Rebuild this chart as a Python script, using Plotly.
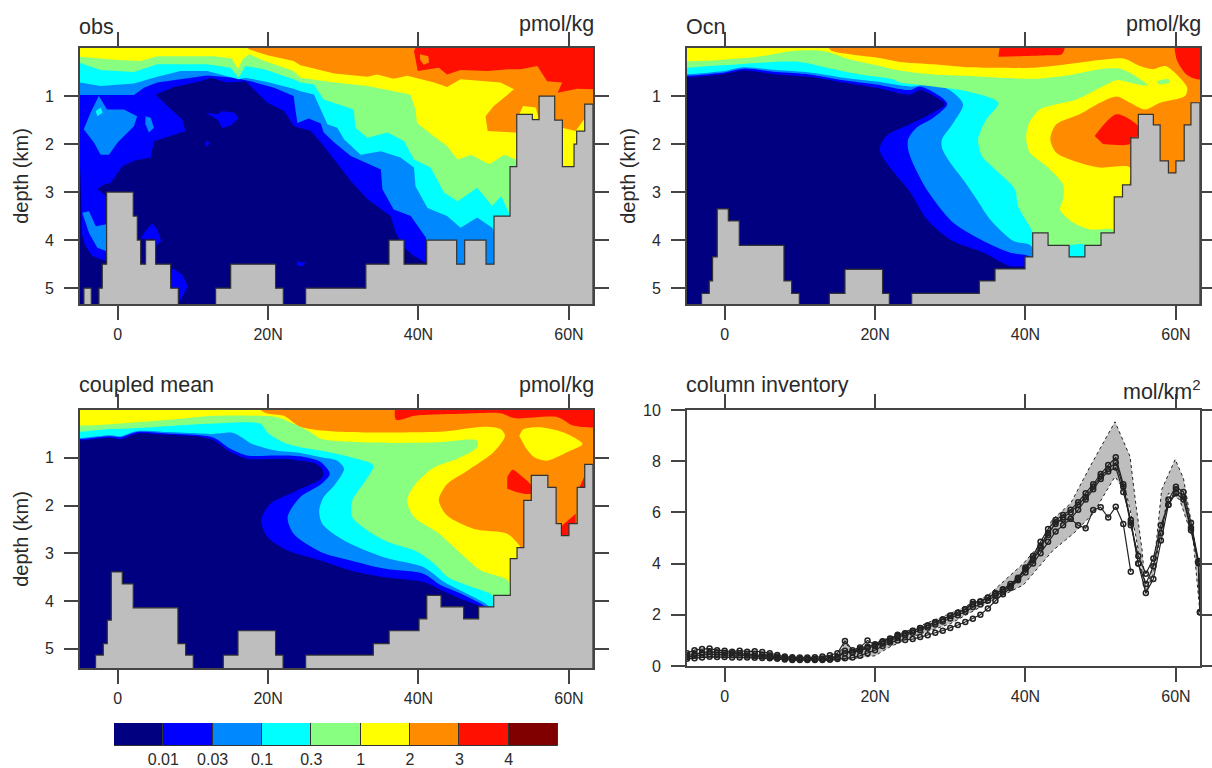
import plotly.graph_objects as go

# ---------- colour classes and legend labels ----------
COLORS = ["#000080", "#0000ff", "#0088ff", "#00ffff", "#88ff80",
          "#ffff00", "#ff8c00", "#ff1000", "#800000"]
LEVEL_LABELS = ["0.01", "0.03", "0.1", "0.3", "1", "2", "3", "4"]
GRAY = "#bebebe"
LAT_TICKS = [0, 20, 40, 60]
LAT_LABELS = ["0", "20N", "40N", "60N"]
DEPTH_TICKS = [1, 2, 3, 4, 5]
INV_TICKS = [0, 2, 4, 6, 8, 10]
LAT_MIN, LAT_MAX = -5, 63.2
DEEP = 5.6

# ---------- isolines digitised as (lat, depth km): region at or above each level ----------
OBS_001 = [(-5,0),(-5,2.4),(-4.7,3.92),(-4.25,4.13),(-3.37,4.33),(-1.46,4.44),(-0.5,3.85),(-1.46,3.08),(-2.7,2.94),(-1.8,2.84),
           (-0.93,2.81),(0.62,2.46),(2.17,2.35),(4.39,2.28),(4.83,1.94),(7.05,1.83),(9.04,1.73),(8.6,1.49),(6.6,1.21),(5.05,0.97),
           (7.49,0.81),(11.04,0.69),(12.37,0.62),(14.58,0.72),(17.02,0.69),(18.57,0.93),(19.9,1.14),(22.12,1.31),(23.45,1.63),
           (25.7,1.73),(27.4,2.04),(28.8,2.32),(31,2.77),(33.2,3.15),(36.3,3.5),(37,3.85),(38.1,4.16),(39.4,4.33),(41,4.47),
           (41,4.6),(63.2,5.6),(63.2,0)]
OBS_001_BLOBS = [
    [(11.7,1.35),(13.3,1.38),(13.9,1.31),(15.5,1.35),(16.1,1.46),(15,1.62),(13.9,1.66),(13.3,1.49)],
    [(3.06,3.97),(3.5,3.85),(4.6,3.65),(5.27,3.78),(5.8,4.02),(5.05,4.12),(5.05,3.97)],
    [(7.27,4.58),(8.6,4.72),(9.35,4.96),(8.6,5.17),(8.07,5.33),(7.05,4.96)],
    [(23.8,4.44),(25,4.47),(24.56,4.54),(23.9,4.54)],
    [(11.6,1.97),(12,1.93),(12.2,2.0),(11.7,2.06)],
]
OBS_003 = [(-5,0),(-5,0.98),(2.17,0.98),(3.5,0.83),(5.27,0.72),(8.38,0.65),(11.9,0.57),(15.5,0.62),(18.1,0.71),(20.8,0.83),
           (23.4,1.0),(23.7,1.35),(23.9,1.56),(25.4,1.47),(27,1.57),(27.4,1.76),(28.8,1.97),(31,2.25),(35,2.53),(35.2,2.94),
           (36.7,3.36),(38.97,3.5),(41,3.95),(41.2,4.5),(63.2,5.6),(63.2,0)]
OBS_003_BLOBS = [
    [(-4.5,1.69),(-3.6,1.35),(-2.5,1.0),(-1.4,1.28),(0.84,1.28),(2.6,1.42),(2.17,1.63),(0,1.97),(-1.15,2.22),(-2.26,2.22),(-3.15,1.97)],
    [(3.7,1.42),(4.4,1.45),(4.83,1.66),(4.17,1.76),(3.7,1.59)],
    [(-4.7,3.43),(-3.8,3.4),(-2.9,3.71),(-1.46,3.67),(-1.46,4.23),(-2.7,4.16),(-3.8,3.85)],
]
OBS_01 = [(-5,0),(-5,0.72),(-2.26,0.79),(2.17,0.74),(5.27,0.6),(8.38,0.48),(11.9,0.48),(15,0.6),(16.1,0.65),(17,0.62),(19.9,0.71),
          (23.4,0.85),(24.3,0.9),(26.1,0.97),(27,1.28),(27.9,1.59),(29.2,1.66),(30.1,1.9),(32.3,2.22),(35,2.15),(37.6,2.28),
          (39.4,2.49),(39.6,2.88),(41.2,3.33),(43.8,3.5),(45.6,3.74),(47.8,3.53),(49.8,3.74),(50.5,4.0),(63.2,5.6),(63.2,0)]
OBS_01_DOT = [(-2.9,1.31),(-2.26,1.24),(-2,1.35),(-2.7,1.42)]
OBS_03 = [(-5,0),(-5,0.31),(-2.26,0.46),(2.17,0.5),(5.27,0.34),(8.38,0.34),(11.9,0.34),(15,0.41),(16.1,0.62),(17,0.375),(19.5,0.44),
          (23.4,0.65),(24.3,0.72),(26.1,0.76),(27.4,1.07),(31.4,1.28),(31.6,1.66),(33.2,1.87),(35.9,1.76),(38.1,1.94),(39.4,2.32),
          (41.6,2.49),(43.4,3.01),(45.2,3.19),(47.8,2.91),(49.8,3.29),(51,3.08),(52,3.43),(52.7,3.85),(63.2,5.6),(63.2,0)]
OBS_1 = [(-5,0),(-5,0.18),(0,0.25),(3.06,0.27),(5.27,0.17),(12.8,0.17),(15.2,0.22),(16,0.44),(16.6,0.24),(17.5,0.13),(19.5,0.27),
         (23.4,0.48),(24.3,0.62),(28.8,0.72),(33.2,0.79),(38.9,0.97),(39.6,1.28),(39.8,1.56),(42,1.83),(43.8,2.04),(45.2,2.32),
         (47,2.22),(49.4,2.42),(51.4,2.22),(52.9,2.32),(53.2,2.46),(63.2,5.6),(63.2,0)]
OBS_2 = [(17.3,0),(17.5,0.03),(19.9,0.15),(23.4,0.27),(24.3,0.36),(28.8,0.53),(33.2,0.6),(34.5,0.55),(36.7,0.64),(38.5,0.58),
         (42.1,0.72),(43.8,0.81),(45.6,0.65),(50.9,0.72),(52.7,0.86),(50,1.21),(48.9,1.42),(49.2,1.73),(52.7,1.76),(53.4,1.76),
         (53.4,1.38),(53.9,1.21),(55.6,1.24),(56,1.49),(58,1.49),(59.1,1.66),(60.9,1.73),(62,1.49),(62.5,1.56),(63.2,1.6),(63.2,0)]
OBS_3 = [(39.6,0),(39.4,0.06),(39.9,0.48),(42.7,0.41),(43.8,0.55),(45.6,0.46),(49.2,0.48),(51.9,0.44),(53.6,0.44),(55.8,0.375),
         (57.1,0.69),(59.1,0.72),(58.5,0.93),(61.1,0.85),(63.2,0.86),(63.2,0)]
OBS_2_SPOT = [(40.2,0.13),(41.3,0.17),(41.4,0.3),(40.7,0.35),(40.2,0.24)]

OBS_BATHY_LAT = [-5,-4.48,-3.5,-2.48,-2.04,-1.46,2.08,2.62,3.06,3.72,5.05,7.05,8.07,13.03,15.03,21,22.03,25,33,36.08,38.08,41.09,
                 45.08,46.14,48.98,50.04,52.17,53.06,55.14,56.03,58.11,59.13,60.68,61.03,62.1]
OBS_BATHY_DEP = [5.6,5.0,5.6,5.0,4.5,3.0,3.5,4.0,4.5,4.0,4.5,5.0,5.6,5.0,4.5,5.0,5.6,5.0,4.5,4.0,4.5,4.0,
                 4.5,4.0,4.5,3.5,2.47,1.38,1.49,1.0,1.5,2.47,2.0,1.73,1.17]

OCN_001 = [(-5,0),(-5,0.53),(-0.6,0.55),(2.5,0.47),(6.9,0.55),(11.3,0.6),(15.8,0.72),(20.2,0.83),(24.6,0.97),(25.97,0.875),(28.6,1.07),
           (29.3,1.17),(27.3,1.38),(24.6,1.59),(21.5,1.83),(20.6,2.11),(21.5,2.39),(24.65,3.0),(26.9,3.57),(30,3.99),(34.4,4.26),
           (37.9,4.54),(39.9,4.56),(40,4.6),(63.2,5.6),(63.2,0)]
OCN_003 = [(-5,0),(-5,0.5),(-0.6,0.52),(2.5,0.43),(6.9,0.5),(11.3,0.55),(15.8,0.67),(20.2,0.76),(24.6,0.875),(26,0.8),(28.6,1.0),
           (29.6,1.17),(27.75,1.45),(25.5,1.66),(24.4,1.9),(24.4,2.11),(25,2.39),(26.6,2.88),(27.75,3.15),(30.4,3.64),(34.4,4.02),
           (37.9,4.26),(40.6,4.35),(41,4.6),(63.2,5.6),(63.2,0)]
OCN_01 = [(-5,0),(-5,0.47),(-0.6,0.49),(2.5,0.4),(6.9,0.46),(11.3,0.51),(15.8,0.62),(20.2,0.7),(24.6,0.8),(27.3,0.76),(29.9,0.875),
          (31.7,1.17),(30.4,1.56),(28.9,1.9),(28.9,2.08),(30,2.39),(31.7,2.74),(33.5,3.15),(35.3,3.57),(38.4,4.02),(40.8,4.13),
          (41,5.6),(63.2,5.6),(63.2,0)]
OCN_03 = [(-5,0),(-5,0.34),(-0.6,0.36),(4.25,0.31),(10,0.29),(13.6,0.41),(18,0.55),(22.4,0.65),(23.3,0.72),(27.7,0.8),(32.2,0.9),
          (36.4,1.14),(34.8,1.49),(33.7,1.9),(34.2,2.25),(36.2,2.56),(38.6,2.94),(39,3.29),(40.8,3.78),(42,4.2),(45.8,4.11),(47.9,4.11),
          (48,5.6),(63.2,5.6),(63.2,0)]
OCN_1 = [(-5,0),(-5,0.18),(3.4,0.2),(9.1,0.06),(13.1,0.06),(16.7,0.24),(20.2,0.36),(23.3,0.47),(27.7,0.55),(32.2,0.58),(36.6,0.62),
         (41,0.64),(45.5,0.57),(49.9,0.44),(52.6,0.43),(54.3,0.55),(56.3,0.78),(54.3,0.74),(52.1,0.67),(49.9,0.83),(46.8,1.07),
         (44.1,1.17),(41.9,1.28),(40.4,1.59),(40.1,1.9),(40.6,2.18),(42.8,2.46),(45,2.84),(45,3.15),(44.6,3.36),(46.4,3.64),
         (48.6,3.78),(51.7,3.79),(52.2,4.2),(63.2,5.6),(63.2,0)]
OCN_03_ISLAND = [(57.4,0.69),(59,0.65),(59.2,0.72),(57.8,0.76)]
OCN_2 = [(13.6,0),(14,0.03),(16.7,0.13),(20.2,0.2),(23.3,0.29),(27.7,0.34),(32.2,0.4),(36.6,0.41),(41,0.41),(45.5,0.34),(49.9,0.25),
         (53,0.22),(55.2,0.375),(56.9,0.44),(58.6,0.375),(60.1,0.55),(61.5,0.83),(61.2,1.0),(57.9,1.14),(55.9,1.28),(53.9,1.14),
         (52.1,1.01),(49.9,1.14),(47.2,1.38),(44.1,1.59),(43.3,1.9),(44.1,2.18),(47.2,2.39),(49.9,2.49),(53.9,2.49),(54,3),(63.2,3),(63.2,0)]
OCN_3_TOP = [(37,0),(45.1,0),(44.9,0.12),(42.8,0.15),(38.9,0.17),(36.4,0.18)]
OCN_3_CORNER = [(59.6,0),(60.1,0.24),(61.4,0.55),(62.8,0.65),(63.2,0.6),(63.2,0)]
OCN_3_CORE = [(49.2,1.83),(52.1,1.38),(55,1.63),(55,1.83),(54.1,1.87),(53.9,2.0),(50.3,2.0)]
OCN_BATHY_LAT = [-5,-3.06,-2.04,-1.6,-0.98,0.49,1.95,7.89,8.91,9.93,13.92,16,21,21.9,24.87,33.87,35.95,39.94,40.96,43,45.8,47.9,50.04,
                 51.8,52.9,54,55,57,57.9,59,60,61.1,62]
OCN_BATHY_DEP = [5.6,5.11,4.85,4.35,3.35,3.6,4.11,4.85,5.11,5.6,5.11,4.61,5.11,5.6,5.11,4.85,4.6,4.35,3.85,4.11,4.35,4.11,3.85,
                 3.1,2.85,1.87,1.38,1.6,2.35,2.6,2.35,1.6,1.14]

CPL_001 = [(-5,0),(-5,0.58),(-0.93,0.58),(0.4,0.61),(2.6,0.49),(6.6,0.52),(11,0.56),(12.8,0.64),(15,0.88),(17.2,1.02),(22.1,1.02),
           (24.3,1.06),(26,1.1),(27,1.2),(27.4,1.34),(27,1.45),(24.3,1.65),(23.4,1.72),(20.3,1.96),(19.1,2.31),(19.9,2.66),(22.6,2.94),
           (27,3.15),(31,3.36),(35.4,3.5),(40.7,3.6),(43,3.77),(45.6,3.95),(48.3,4.11),(49.5,4.2),(63.2,5.6),(63.2,0)]
CPL_003 = [(-5,0),(-5,0.55),(-0.93,0.55),(0.4,0.57),(2.6,0.46),(6.6,0.49),(11,0.53),(12.8,0.58),(15,0.81),(17.2,0.95),(21.2,0.95),
           (24.3,0.97),(27,1.09),(28.2,1.34),(27,1.56),(24.3,1.82),(22.6,2.24),(23.4,2.59),(27,2.97),(31,3.15),(35.4,3.32),(40.7,3.43),
           (43,3.67),(45.6,3.84),(48.7,4.09),(49.6,4.19),(63.2,5.6),(63.2,0)]
CPL_01 = [(-5,0),(-5,0.53),(-0.93,0.53),(0.4,0.55),(2.6,0.44),(6.6,0.46),(11,0.49),(12.8,0.5),(15.4,0.48),(17.9,0.71),(21,0.85),
          (24.3,0.9),(27,0.99),(29.2,1.06),(30.1,1.23),(28.8,1.58),(27.4,1.82),(26.8,2.1),(27.2,2.38),(30.1,2.73),(35.4,3.08),
          (40.7,3.29),(43.4,3.6),(46,3.81),(48.9,4.05),(49.8,4.16),(63.2,5.6),(63.2,0)]
CPL_03 = [(-5,0),(-5,0.4),(-0.93,0.4),(5.7,0.35),(11.9,0.29),(19,0.29),(19.9,0.47),(22.1,0.68),(24.3,0.78),(27,0.85),(31,0.99),(34,1.16),
          (32.8,1.51),(31.2,1.89),(31.2,2.24),(33.2,2.52),(35.9,2.76),(39.9,2.97),(42.1,3.22),(43.9,3.5),(47,3.7),(49.8,3.88),(50.5,4.2),
          (63.2,5.6),(63.2,0)]
CPL_1 = [(-5,0),(-5,0.24),(2.2,0.26),(7.9,0.19),(12.8,0.12),(18.6,0.12),(21.2,0.15),(23.4,0.29),(25.7,0.47),(27,0.6),(33.2,0.68),
         (42,0.68),(47.8,0.64),(47.8,0.78),(45.2,1.02),(42.1,1.2),(39.6,1.55),(38.5,1.89),(39.4,2.24),(42.5,2.56),(45.2,2.94),(48.3,3.36),
         (51.9,3.57),(52.2,3.9),(63.2,5.6),(63.2,0)]
CPL_2 = [(15.9,0),(19.5,0.05),(22.1,0.12),(24.3,0.35),(28.8,0.45),(33.2,0.47),(37.6,0.47),(43.4,0.45),(48.7,0.35),(50.9,0.4),(51.5,0.54),
         (50,0.88),(46.5,1.27),(43.8,1.55),(42.7,1.89),(43.8,2.21),(47.4,2.49),(51.8,2.59),(53.4,2.83),(54,3),(63.2,3),(63.2,0)]
CPL_1_ISLAND = [(53.4,0.54),(54,0.4),(56.2,0.36),(59.3,0.47),(61.8,0.71),(60.2,0.85),(57.1,1.06),(55.4,0.99),(54.2,0.78)]
CPL_3_TOP = [(37.4,0),(37,0.2),(39.5,0.12),(45.7,0.08),(50.9,0.07),(52.7,0.17),(58.5,0.15),(60.7,0.33),(63.2,0.29),(63.2,0)]
CPL_3_CORE = [(51.8,1.41),(52.5,1.25),(53.6,1.37),(55,1.58),(55,1.75),(53.1,1.72),(51.8,1.65)]
CPL_3_LOW = [(59.1,2.42),(60.9,2.17),(60.9,2.38),(60,2.63),(59,2.63)]
CPL_3_EDGE = [(61.4,1.62),(62,1.41),(62.1,1.62)]
CPL_BATHY_LAT = [-5,-2.93,-1.9,-1.37,-0.84,0.62,2.08,8.02,9.04,10.06,14.05,16,21,22,25,34,36.1,40.07,41.1,43,46,48,50,52.2,53.1,54,55,57.2,
                 58.3,59,60,61.1,62.1]
CPL_BATHY_DEP = [5.6,5.13,4.89,4.4,3.39,3.64,4.14,4.89,5.13,5.6,5.13,4.62,5.13,5.6,5.13,4.89,4.62,4.37,3.88,4.12,4.37,4.12,3.88,3.11,2.88,1.89,
                 1.37,1.62,2.38,2.63,2.38,1.62,1.14]

# ---------- column inventory ----------
INV_LAT = list(range(-5, 64)) + [63.2]
INV_OBS = [.5,.62,.66,.68,.62,.6,.56,.6,.56,.58,.55,.5,.43,.37,.34,.33,.33,.34,.37,.42,.5,.98,.62,.72,1.0,.82,.97,1.07,1.22,1.27,
           1.37,1.47,1.58,1.72,1.82,1.97,2.08,2.22,2.5,2.52,2.67,2.82,2.97,3.12,3.42,3.78,4.12,4.62,5.12,5.62,5.72,5.75,5.5,5.38,6.09,6.2,5.8,6.22,5.55,3.68]
INV_OCN = [.28,.3,.33,.36,.35,.35,.33,.33,.33,.32,.31,.3,.28,.25,.23,.23,.23,.23,.23,.24,.27,.3,.33,.4,.5,.62,.78,.92,1.0,1.02,
           1.05,1.13,1.2,1.3,1.38,1.48,1.6,1.72,1.85,2.0,2.25,2.55,2.8,3.05,3.35,3.65,4.0,4.4,4.85,5.25,5.5,5.75,6.1,6.5,6.9,7.3,7.6,7.75,6.8,5.7,4.0,2.85,3.4,4.9,6.3,6.75,6.5,5.3,4.0,2.1]
INV_CPL = [.4,.47,.52,.56,.54,.52,.5,.5,.48,.46,.44,.41,.37,.33,.3,.29,.28,.28,.29,.31,.36,.5,.55,.65,.75,.85,.95,1.05,1.18,1.28,
           1.38,1.48,1.58,1.7,1.82,1.95,2.08,2.22,2.42,2.52,2.68,2.85,3.0,3.2,3.45,3.85,4.3,4.85,5.35,5.7,5.9,6.1,6.4,6.75,7.1,7.5,7.85,8.15,7.1,5.6,4.0,3.2,3.9,5.2,6.5,7.0,6.8,5.6,4.1,2.1]
INV_MEM = [.35,.4,.44,.46,.44,.43,.42,.42,.41,.39,.37,.35,.32,.29,.27,.26,.26,.26,.27,.29,.33,.6,.52,.6,.7,.78,.88,.98,1.12,1.2,
           1.3,1.4,1.5,1.62,1.74,1.86,1.98,2.12,2.3,2.4,2.55,2.75,2.9,3.12,3.4,3.78,4.2,4.7,5.2,5.55,5.8,6.0,6.3,6.6,7.0,7.4,7.7,7.95,7.0,5.5,4.3,3.6,4.2,5.5,6.3,6.9,6.6,5.4,4.05,2.1]
ENV_LAT = [-5,0,5,10,15,16,17,20,25,30,35,39.7,42.4,43.5,46,48.6,51.9,53.9,54.6,55.5,56,57.2,58.1,59.9,61,61.9,63,63.2]
ENV_TOP = [.5,.55,.45,.33,.38,.9,.6,.9,1.45,2.05,2.75,4.0,4.9,5.7,6.35,7.8,9.54,8.18,6.48,4.53,2.84,4.27,6.88,8.07,7.33,5.83,4.0,2.06]
ENV_BOT_LAT = [-5,0,5,10,15,20,22,25,30,35.7,39.7,43.7,46.4,49,51.9,53.4,54.6,56,57,58,59,60.5,62.3,63.2]
ENV_BOT = [.3,.38,.3,.22,.22,.4,.75,1.15,1.65,2.58,3.16,4.53,5.18,5.96,7.4,6.75,5.18,2.84,3.6,5.18,6.75,6.5,4.92,2.06]

# ---------- layout constants ----------
W, H = 1212, 768
TXT = "#2a2a2a"
AX = "#444444"
FONT = "Liberation Sans"


def xd(a, b):
    return [a / W, b / W]


def yd(top, bottom):
    return [1 - bottom / H, 1 - top / H]


fig = go.Figure()


def poly(pts, color, ax, smooth=False):
    xs = [p[0] for p in pts]
    ys = [p[1] for p in pts]
    line = dict(width=0, color=color)
    if smooth:
        # push edge vertices past the clipped plot box so the spline cannot pull away from the frame
        xs = [LAT_MIN - 3 if v <= LAT_MIN else LAT_MAX + 3 if v >= LAT_MAX else v for v in xs]
        ys = [-0.5 if v == 0 else v for v in ys]
        line.update(shape="spline", smoothing=0.8)
    fig.add_trace(go.Scatter(x=xs, y=ys, mode="lines", fill="toself", fillcolor=color, line=line,
                             hoverinfo="skip", showlegend=False, xaxis="x" + ax, yaxis="y" + ax))


def bathy(lat, dep, ax):
    xs = lat + [LAT_MAX, LAT_MAX, LAT_MIN]
    ys = dep + [dep[-1], DEEP, DEEP]
    fig.add_trace(go.Scatter(x=xs, y=ys, mode="lines", fill="toself", fillcolor=GRAY,
                             line=dict(width=1.2, color="#333333", shape="hv"), hoverinfo="skip",
                             showlegend=False, xaxis="x" + ax, yaxis="y" + ax))


BASE = [(LAT_MIN, 0), (LAT_MIN, DEEP), (LAT_MAX, DEEP), (LAT_MAX, 0)]

# panel 1: obs
poly(BASE, COLORS[0], "")
poly(OBS_001, COLORS[1], "")
for b in OBS_001_BLOBS:
    poly(b, COLORS[1], "")
poly(OBS_003, COLORS[2], "")
for b in OBS_003_BLOBS:
    poly(b, COLORS[2], "")
poly(OBS_01, COLORS[3], "")
poly(OBS_01_DOT, COLORS[3], "")
poly(OBS_03, COLORS[4], "")
poly(OBS_1, COLORS[5], "")
poly(OBS_2, COLORS[6], "")
poly(OBS_3, COLORS[7], "")
poly(OBS_2_SPOT, COLORS[6], "")
bathy(OBS_BATHY_LAT, OBS_BATHY_DEP, "")

# panel 2: Ocn
poly(BASE, COLORS[0], "2")
poly(OCN_001, COLORS[1], "2", True)
poly(OCN_003, COLORS[2], "2", True)
poly(OCN_01, COLORS[3], "2", True)
poly(OCN_03, COLORS[4], "2", True)
poly(OCN_1, COLORS[5], "2", True)
poly(OCN_03_ISLAND, COLORS[4], "2", True)
poly(OCN_2, COLORS[6], "2", True)
poly(OCN_3_TOP, COLORS[7], "2", True)
poly(OCN_3_CORNER, COLORS[7], "2", True)
poly(OCN_3_CORE, COLORS[7], "2", True)
bathy(OCN_BATHY_LAT, OCN_BATHY_DEP, "2")

# panel 3: coupled mean
poly(BASE, COLORS[0], "3")
poly(CPL_001, COLORS[1], "3", True)
poly(CPL_003, COLORS[2], "3", True)
poly(CPL_01, COLORS[3], "3", True)
poly(CPL_03, COLORS[4], "3", True)
poly(CPL_1, COLORS[5], "3", True)
poly(CPL_2, COLORS[6], "3", True)
poly(CPL_1_ISLAND, COLORS[5], "3", True)
poly(CPL_3_TOP, COLORS[7], "3", True)
poly(CPL_3_CORE, COLORS[7], "3", True)
poly(CPL_3_LOW, COLORS[7], "3")
poly(CPL_3_EDGE, COLORS[7], "3")
bathy(CPL_BATHY_LAT, CPL_BATHY_DEP, "3")

# panel 4: column inventory
fig.add_trace(go.Scatter(x=ENV_LAT + ENV_BOT_LAT[::-1], y=ENV_TOP + ENV_BOT[::-1], mode="lines", fill="toself",
                         fillcolor=GRAY, line=dict(width=1, color="#222222", dash="dot"), hoverinfo="skip",
                         showlegend=False, xaxis="x4", yaxis="y4"))
for series in (INV_OCN, INV_CPL, INV_MEM, INV_OBS):
    fig.add_trace(go.Scatter(x=INV_LAT[:len(series)], y=series, mode="lines+markers", hoverinfo="skip", showlegend=False,
                             line=dict(width=1.2, color="#222222"),
                             marker=dict(symbol="circle-open", size=5, color="#222222", line=dict(width=1.5)),
                             xaxis="x4", yaxis="y4"))

# label bar
fig.add_trace(go.Bar(x=list(range(len(COLORS))), y=[1] * len(COLORS), width=1, marker=dict(color=COLORS, line=dict(color="#333333", width=1)),
                     hoverinfo="skip", showlegend=False, xaxis="x5", yaxis="y5"))

tick = dict(ticks="outside", ticklen=14, tickwidth=2, tickcolor=AX, showline=True, linewidth=2, linecolor=AX,
            mirror="ticks", showgrid=False, zeroline=False, layer="above traces", automargin=False,
            tickfont=dict(size=16, color=TXT, family=FONT))
latax = dict(range=[LAT_MIN, LAT_MAX], tickmode="array", tickvals=LAT_TICKS, ticktext=LAT_LABELS, ticklabelstandoff=1, **tick)
depax = dict(range=[5.33, 0], tickmode="array", tickvals=DEPTH_TICKS, ticktext=[str(v) for v in DEPTH_TICKS], ticklabelstandoff=7,
             title=dict(text="depth (km)", font=dict(size=20, color=TXT, family=FONT), standoff=11), **tick)

annotations = []


def label(text, x, y, anchor="left", size=21.5):
    annotations.append(dict(text=text, x=x / W, y=1 - y / H, xref="paper", yref="paper", xanchor=anchor, yanchor="middle",
                            showarrow=False, font=dict(size=size, color=TXT, family=FONT)))


label("obs", 77, 27)
label("pmol/kg", 596, 24, "right")
label("Ocn", 684, 27)
label("pmol/kg", 1203, 24, "right")
label("coupled mean", 77, 385)
label("pmol/kg", 596, 385, "right")
label("column inventory", 684, 385)
label("mol/km<sup>2</sup>", 1202.5, 390, "right")

fig.update_layout(
    width=W, height=H, margin=dict(l=0, r=0, t=0, b=0), paper_bgcolor="white", plot_bgcolor="white",
    font=dict(family=FONT, color=TXT), annotations=annotations, bargap=0, showlegend=False,
    xaxis=dict(domain=xd(80, 593), anchor="y", **latax),
    yaxis=dict(domain=yd(48, 304), anchor="x", **depax),
    xaxis2=dict(domain=xd(687, 1200), anchor="y2", **latax),
    yaxis2=dict(domain=yd(48, 304), anchor="x2", **depax),
    xaxis3=dict(domain=xd(80, 593), anchor="y3", **latax),
    yaxis3=dict(domain=yd(410, 668), anchor="x3", **{**depax, "range": [5.4, 0]}),
    xaxis4=dict(domain=xd(687, 1200), anchor="y4", **latax),
    yaxis4=dict(domain=yd(410, 666), anchor="x4", range=[0, 10], tickmode="array", tickvals=INV_TICKS, ticklabelstandoff=7, **tick),
    xaxis5=dict(domain=xd(114, 558), anchor="y5", range=[-0.5, 8.5], tickmode="array", automargin=False, ticklabelstandoff=2,
                tickvals=[i + 0.5 for i in range(len(LEVEL_LABELS))], ticktext=LEVEL_LABELS, ticks="", showline=False,
                showgrid=False, zeroline=False, tickfont=dict(size=16, color=TXT, family=FONT)),
    yaxis5=dict(domain=yd(723, 746), anchor="x5", range=[0, 1], visible=False, automargin=False),
)

fig.write_html("out.html", config={"displayModeBar": False},
               post_script="document.body.style.margin='0';document.documentElement.style.overflow='hidden';")
